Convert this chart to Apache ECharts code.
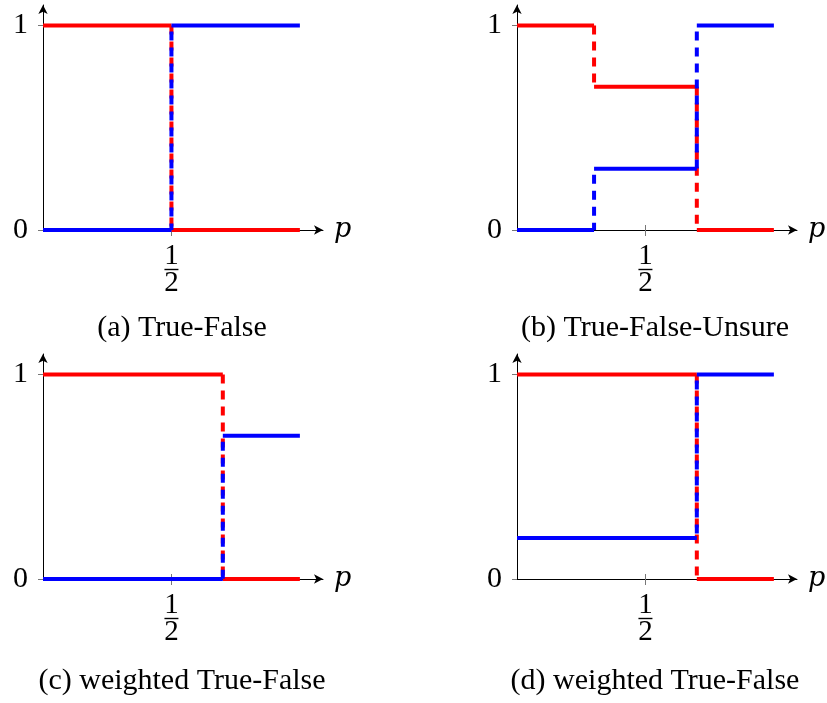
<!DOCTYPE html>
<html>
<head>
<meta charset="utf-8">
<script src="https://cdn.jsdelivr.net/npm/echarts@6/dist/echarts.min.js"></script>
<style>
html,body{margin:0;padding:0;background:#fff;}
#chart{width:827px;height:703px;}
</style>
</head>
<body>
<div id="chart"></div>
<script>
// ---- data ----
const captions = ['(a) True-False', '(b) True-False-Unsure', '(c) weighted True-False', '(d) weighted True-False'];
const xBreaksA = [0, 0.5, 1];
const redLevelsA = [1, 0];
const blueLevelsA = [0, 1];
const xBreaksB = [0, 0.3, 0.7, 1];
const redLevelsB = [1, 0.7, 0];
const blueLevelsB = [0, 0.3, 1];
const xBreaksC = [0, 0.7, 1];
const redLevelsC = [1, 0];
const blueLevelsC = [0, 0.7];
const xBreaksD = [0, 0.7, 1];
const redLevelsD = [1, 0];
const blueLevelsD = [0.2, 1];
const yTickValues = [0, 1];
const yTickLabels = ['0', '1'];
const xTickValues = [0.5];
const xTickNumerator = '1';
const xTickDenominator = '2';
const xAxisName = 'p';

const panels = [
  {breaks: xBreaksA, red: redLevelsA, blue: blueLevelsA},
  {breaks: xBreaksB, red: redLevelsB, blue: blueLevelsB},
  {breaks: xBreaksC, red: redLevelsC, blue: blueLevelsC},
  {breaks: xBreaksD, red: redLevelsD, blue: blueLevelsD}
];

// ---- layout ----
const SERIF = '"Liberation Serif", "DejaVu Serif", serif';
const SERIF_IT = '"DejaVu Serif", "Liberation Serif", serif';
const gridPos = [
  {left: 43, top: 5, width: 280, height: 225},
  {left: 517, top: 5, width: 280, height: 225},
  {left: 43, top: 354, width: 280, height: 225},
  {left: 517, top: 354, width: 280, height: 225}
];
const captionPos = [[182, 328], [655, 328], [182, 681], [655, 681]];
const RED = '#ff0000', BLUE = '#0000ff';
const LW = 4;
const DASH = [9, 7];

const grids = [], xAxes = [], yAxes = [], series = [];
gridPos.forEach((g, i) => {
  grids.push(Object.assign({containLabel: false}, g));
  xAxes.push({
    type: 'value', gridIndex: i, min: 0, max: 1.09,
    name: xAxisName, nameLocation: 'end', nameGap: 11,
    nameTextStyle: {fontFamily: SERIF_IT, fontStyle: 'italic', fontSize: 27, color: '#000', verticalAlign: 'middle', padding: [0, 0, 2, 0]},
    axisLine: {show: true, symbol: ['none', 'arrow'], symbolSize: [7, 9], lineStyle: {color: '#000', width: 1}},
    axisTick: {show: true, customValues: xTickValues, length: 6, lineStyle: {color: '#777', width: 1}},
    axisLabel: {
      show: true, customValues: xTickValues, margin: 14,
      formatter: () => '{n|' + xTickNumerator + '}\n{b| }\n{d|' + xTickDenominator + '}',
      rich: {
        n: {fontFamily: SERIF, fontSize: 29, lineHeight: 24, color: '#000', align: 'center'},
        b: {width: 14, height: 1.4, lineHeight: 3, backgroundColor: '#000', align: 'center', fontSize: 2},
        d: {fontFamily: SERIF, fontSize: 29, lineHeight: 24, color: '#000', align: 'center'}
      }
    },
    splitLine: {show: false}
  });
  xAxes.push({
    type: 'value', gridIndex: i, min: 0, max: 1.09, position: 'bottom', offset: 0,
    axisLine: {show: false},
    axisTick: {show: true, inside: true, customValues: xTickValues, length: 5, lineStyle: {color: '#777', width: 1}},
    axisLabel: {show: false},
    splitLine: {show: false}
  });
  yAxes.push({
    type: 'value', gridIndex: i, min: 0, max: 1.1,
    axisLine: {show: true, symbol: ['none', 'arrow'], symbolSize: [7, 9], lineStyle: {color: '#000', width: 1}},
    axisTick: {show: true, customValues: yTickValues, length: 5, lineStyle: {color: '#777', width: 1}},
    axisLabel: {
      show: true, customValues: yTickValues, margin: 15,
      formatter: (v) => yTickLabels[yTickValues.indexOf(v)],
      fontFamily: SERIF, fontSize: 30, color: '#000'
    },
    splitLine: {show: false}
  });
});

function addSteps(panelIdx, breaks, levels, color, dashOffset) {
  const xi = panelIdx * 2, yi = panelIdx;
  for (let k = 0; k < levels.length; k++) {
    series.push({
      type: 'line', xAxisIndex: xi, yAxisIndex: yi, showSymbol: false, silent: true,
      data: [[breaks[k], levels[k]], [breaks[k + 1], levels[k]]],
      lineStyle: {color: color, width: LW, cap: 'butt'}, animation: false, z: 3
    });
  }
  for (let k = 1; k < levels.length; k++) {
    const hi = Math.max(levels[k - 1], levels[k]);
    const lo = Math.min(levels[k - 1], levels[k]);
    series.push({
      type: 'line', xAxisIndex: xi, yAxisIndex: yi, showSymbol: false, silent: true,
      data: [[breaks[k], hi], [breaks[k], lo]],
      lineStyle: {color: color, width: LW, type: DASH, dashOffset: dashOffset, cap: 'butt'}, animation: false, z: 3
    });
  }
}

panels.forEach((p, i) => {
  addSteps(i, p.breaks, p.red, RED, 0);
  addSteps(i, p.breaks, p.blue, BLUE, 10);
});

const graphic = captions.map((t, i) => ({
  type: 'text', x: captionPos[i][0], y: captionPos[i][1], silent: true,
  style: {text: t, fill: '#000', fontFamily: SERIF, fontSize: 30, align: 'center', verticalAlign: 'middle'}
}));

const chart = echarts.init(document.getElementById('chart'), null, {renderer: 'canvas'});
chart.setOption({
  animation: false,
  backgroundColor: '#fff',
  grid: grids,
  xAxis: xAxes,
  yAxis: yAxes,
  series: series,
  graphic: graphic
});
</script>
</body>
</html>
